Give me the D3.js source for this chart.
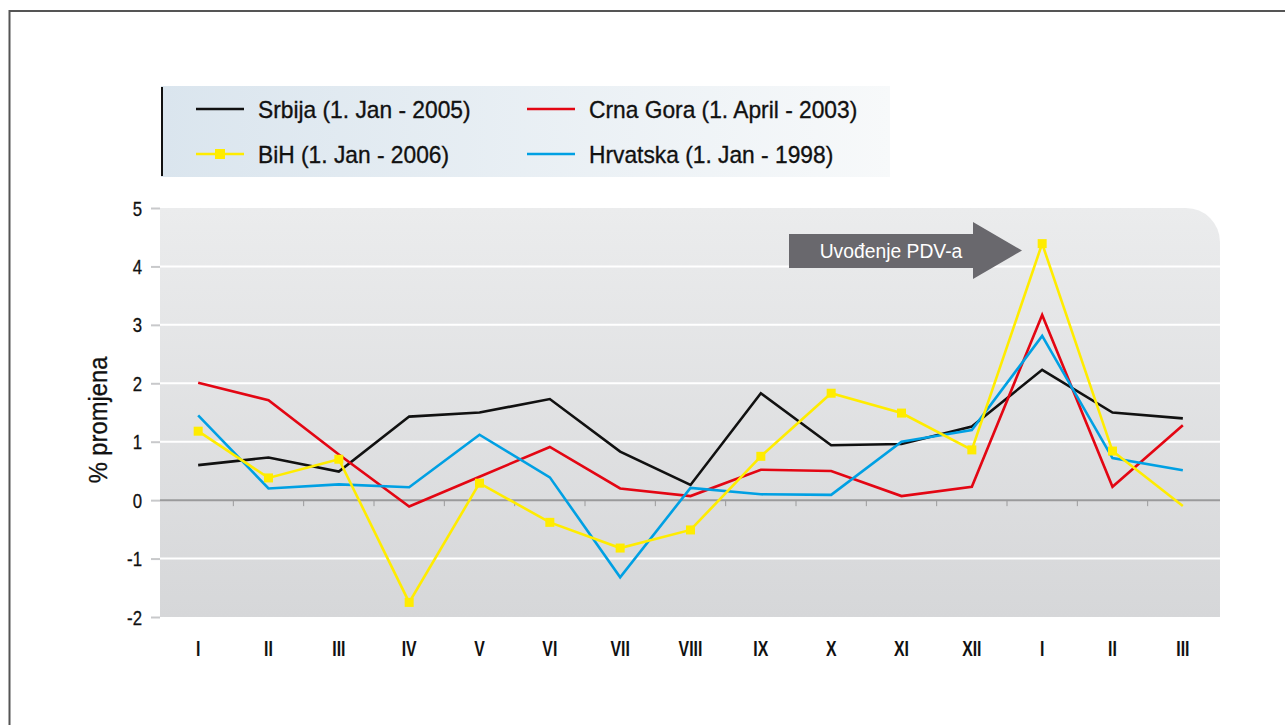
<!DOCTYPE html>
<html>
<head>
<meta charset="utf-8">
<script src="https://cdn.jsdelivr.net/npm/d3@7"></script>
<style>
  body { margin: 0; background: #fff; }
  svg { display: block; }
  text { font-family: "Liberation Sans", Arial, sans-serif; }
</style>
</head>
<body>
<svg id="chart"></svg>
<script>
// months, last three are the following year
months = ["I", "II", "III", "IV", "V", "VI", "VII", "VIII", "IX", "X", "XI", "XII", "I", "II", "III"];
yTicks = [-2, -1, 0, 1, 2, 3, 4, 5];

srbija   = [0.60, 0.73, 0.49, 1.43, 1.50, 1.73, 0.83, 0.26, 1.83, 0.94, 0.96, 1.26, 2.23, 1.50, 1.40];
crnaGora = [2.01, 1.71, 0.78, -0.11, 0.40, 0.91, 0.20, 0.07, 0.52, 0.50, 0.07, 0.23, 3.17, 0.23, 1.28];
bih      = [1.18, 0.38, 0.70, -1.75, 0.29, -0.38, -0.82, -0.51, 0.75, 1.83, 1.49, 0.86, 4.39, 0.84, -0.10];
hrvatska = [1.45, 0.20, 0.27, 0.22, 1.12, 0.39, -1.32, 0.21, 0.10, 0.09, 1.00, 1.20, 2.81, 0.72, 0.51];

seriesNames = ["Srbija (1. Jan - 2005)", "Crna Gora (1. April - 2003)", "BiH (1. Jan - 2006)", "Hrvatska (1. Jan - 1998)"];
seriesColors = ["#111111", "#e30613", "#ffec00", "#00a0e3"];

WIDTH = 1285
HEIGHT = 725
plotLeft = 160
plotRight = 1220
plotTop = 208
plotBottom = 617
SQUEEZE = 0.84   // the original uses a condensed face, squeeze Liberation Sans instead

var svg = d3.select("#chart").attr("width", WIDTH).attr("height", HEIGHT);
var defs = svg.append("defs");

var bg = defs.append("linearGradient").attr("id", "plotbg")
    .attr("x1", 0).attr("y1", 0).attr("x2", 0).attr("y2", 1);
bg.append("stop").attr("offset", "0%").attr("stop-color", "#ebeced");
bg.append("stop").attr("offset", "100%").attr("stop-color", "#d6d7d9");

var lg = defs.append("linearGradient").attr("id", "legbg")
    .attr("x1", 0).attr("y1", 0).attr("x2", 1).attr("y2", 0);
lg.append("stop").attr("offset", "0%").attr("stop-color", "#dae5ee");
lg.append("stop").attr("offset", "100%").attr("stop-color", "#f7f9fa");

// outer frame
svg.append("path")
    .attr("d", "M9.5,725 L9.5,11 L1285,11")
    .attr("fill", "none").attr("stroke", "#555").attr("stroke-width", 2);

var x = d3.scalePoint().domain(d3.range(months.length)).range([163, 1218]).padding(0.5);
var y = d3.scaleLinear().domain([-2, 5]).range([plotBottom, plotTop]);

// plot background with rounded top right corner
var r = 34;
svg.append("path")
    .attr("d", "M" + plotLeft + "," + plotTop + " L" + (plotRight - r) + "," + plotTop +
        " A" + r + "," + r + " 0 0 1 " + plotRight + "," + (plotTop + r) +
        " L" + plotRight + "," + plotBottom + " L" + plotLeft + "," + plotBottom + " Z")
    .attr("fill", "url(#plotbg)");

// white gridlines
svg.append("g").selectAll("line")
    .data(yTicks.filter(d => d != 0 && d != 5 && d != -2))
    .enter().append("line")
    .attr("x1", plotLeft).attr("x2", plotRight)
    .attr("y1", d => y(d)).attr("y2", d => y(d))
    .attr("stroke", "#fff").attr("stroke-width", 2);

// y axis
var yAxis = svg.append("g")
    .attr("transform", "translate(" + plotLeft + ",0)")
    .call(d3.axisLeft(y).tickValues(yTicks).tickSize(9).tickPadding(18).tickFormat(d => String(d)));
yAxis.select(".domain").remove();
yAxis.selectAll(".tick line").attr("stroke", "#c8c9cb").attr("stroke-width", 2);
yAxis.selectAll(".tick text")
    .attr("font-size", 20).attr("fill", "#111").attr("font-family", null)
    .attr("x", -18 / SQUEEZE).attr("dy", "0.35em")
    .attr("stroke", "#111").attr("stroke-width", 0.3)
    .attr("transform", "scale(" + SQUEEZE + ",1)");

// zero line with small ticks between months
svg.append("line")
    .attr("x1", plotLeft).attr("x2", plotRight)
    .attr("y1", y(0)).attr("y2", y(0))
    .attr("stroke", "#9a9a9b").attr("stroke-width", 2);
svg.append("g").selectAll("line")
    .data(d3.range(1, months.length))
    .enter().append("line")
    .attr("x1", d => (x(d - 1) + x(d)) / 2).attr("x2", d => (x(d - 1) + x(d)) / 2)
    .attr("y1", y(0)).attr("y2", y(0) + 6)
    .attr("stroke", "#9a9a9b").attr("stroke-width", 1);

// x labels
svg.append("g").selectAll("text")
    .data(months)
    .enter().append("text")
    .attr("transform", (d, i) => "translate(" + x(i) + ",656) scale(0.72,1)")
    .attr("text-anchor", "middle")
    .attr("font-size", 22)
    .attr("font-weight", "bold")
    .attr("fill", "#111")
    .text(d => d);

// y title
svg.append("text")
    .attr("transform", "translate(107,420) rotate(-90) scale(0.95,1)")
    .attr("text-anchor", "middle")
    .attr("font-size", 25)
    .attr("fill", "#111")
    .attr("stroke", "#111").attr("stroke-width", 0.3)
    .text("% promjena");

// arrow annotation
svg.append("path")
    .attr("d", "M789,234 L973,234 L973,222 L1022,250.5 L973,279 L973,268 L789,268 Z")
    .attr("fill", "#69686d");
svg.append("text")
    .attr("transform", "translate(891,258) scale(0.92,1)")
    .attr("text-anchor", "middle")
    .attr("font-size", 21)
    .attr("fill", "#fff")
    .text("Uvođenje PDV-a");

// lines
var line = d3.line().x((d, i) => x(i)).y(d => y(d));
var allSeries = [srbija, crnaGora, hrvatska, bih];
var colorsDraw = [seriesColors[0], seriesColors[1], seriesColors[3], seriesColors[2]];
svg.append("g").selectAll("path")
    .data(allSeries)
    .enter().append("path")
    .attr("d", d => line(d))
    .attr("fill", "none")
    .attr("stroke", (d, i) => colorsDraw[i])
    .attr("stroke-width", 2.6)
    .attr("stroke-linejoin", "miter");

// BiH markers
svg.append("g").selectAll("rect")
    .data(bih.slice(0, bih.length - 1))
    .enter().append("rect")
    .attr("x", (d, i) => x(i) - 4.5)
    .attr("y", d => y(d) - 4.5)
    .attr("width", 9).attr("height", 9)
    .attr("fill", seriesColors[2]);

// legend
svg.append("rect")
    .attr("x", 161).attr("y", 86).attr("width", 729).attr("height", 91)
    .attr("fill", "url(#legbg)");
svg.append("line")
    .attr("x1", 162).attr("x2", 162).attr("y1", 87).attr("y2", 176)
    .attr("stroke", "#111").attr("stroke-width", 2);

var legPos = [[196, 109], [527, 109], [196, 154], [527, 154]];
var leg = svg.append("g").selectAll("g")
    .data(seriesNames)
    .enter().append("g")
    .attr("transform", (d, i) => "translate(" + legPos[i][0] + "," + legPos[i][1] + ")");
leg.append("line")
    .attr("x1", 0).attr("x2", 48).attr("y1", 0).attr("y2", 0)
    .attr("stroke", (d, i) => seriesColors[i]).attr("stroke-width", 2.6);
leg.filter((d, i) => i == 2).append("rect")
    .attr("x", 19).attr("y", -5).attr("width", 10).attr("height", 10)
    .attr("fill", seriesColors[2]);
leg.append("text")
    .attr("transform", "translate(62,9) scale(0.93,1)")
    .attr("font-size", 24.5)
    .attr("fill", "#111")
    .attr("stroke", "#111").attr("stroke-width", 0.35)
    .text(d => d);
</script>
</body>
</html>
